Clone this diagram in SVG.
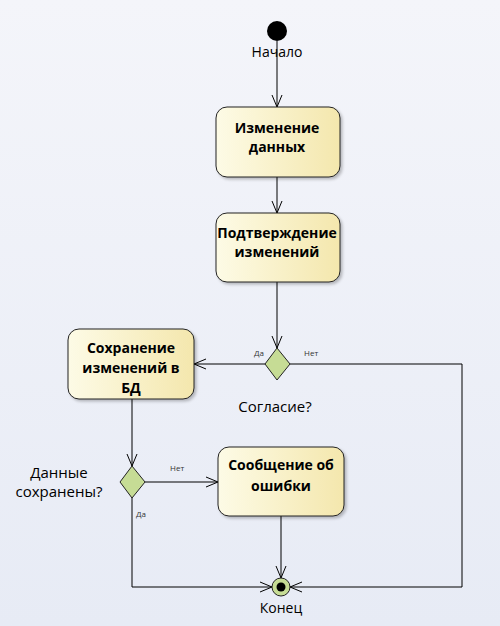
<svg xmlns="http://www.w3.org/2000/svg" width="500" height="626" viewBox="0 0 500 626">
<defs>
<linearGradient id="bg" x1="0" y1="0" x2="0" y2="1"><stop offset="0" stop-color="#f4f5fa"/><stop offset="1" stop-color="#e7ebf5"/></linearGradient>
<linearGradient id="act" x1="0" y1="0" x2="1" y2="0"><stop offset="0" stop-color="#fdfbe6"/><stop offset="1" stop-color="#f4e7ad"/></linearGradient>
<marker id="arr" viewBox="0 0 12 12" refX="12" refY="6" markerWidth="12" markerHeight="12" markerUnits="userSpaceOnUse" orient="auto"><path d="M0,1 L12,6 L0,11" fill="none" stroke="#000" stroke-width="1"/></marker>
<filter id="sh" x="-10%" y="-10%" width="130%" height="130%"><feGaussianBlur in="SourceAlpha" stdDeviation="1.5"/><feOffset dx="2" dy="2"/><feComponentTransfer><feFuncA type="linear" slope="0.25"/></feComponentTransfer><feMerge><feMergeNode/><feMergeNode in="SourceGraphic"/></feMerge></filter>
</defs>
<style>
.box{fill:url(#act);stroke:#222;stroke-width:1;filter:url(#sh)}
.dia{fill:#c6dc95;stroke:#222;stroke-width:1}
.bt{font-family:"Open Sans","Liberation Sans",sans-serif;font-weight:bold;font-size:14px;text-anchor:middle;fill:#000}
.lt{font-family:"Open Sans","Liberation Sans",sans-serif;font-size:14px;text-anchor:middle;fill:#000}
.lg{font-size:15px}
.st{font-family:"Open Sans","Liberation Sans",sans-serif;font-size:8px;fill:#333}
.c{fill:none;stroke:#000;stroke-width:1}
</style>
<rect width="500" height="626" fill="url(#bg)"/>
<g id="connectors">
<path class="c" d="M277,41 V107" marker-end="url(#arr)"/>
<path class="c" d="M277,177 V213" marker-end="url(#arr)"/>
<path class="c" d="M277,282 V348" marker-end="url(#arr)"/>
<path class="c" d="M265,364 H194" marker-end="url(#arr)"/>
<path class="c" d="M290,364 H462 V587 H290" marker-end="url(#arr)"/>
<path class="c" d="M132,399 V466" marker-end="url(#arr)"/>
<path class="c" d="M145,482 H218" marker-end="url(#arr)"/>
<path class="c" d="M281,516 V578" marker-end="url(#arr)"/>
<path class="c" d="M132,497 V587 H272" marker-end="url(#arr)"/>
<text class="st" x="254" y="356">Да</text>
<text class="st" x="304" y="356">Нет</text>
<text class="st" x="170" y="471">Нет</text>
<text class="st" x="136" y="517">Да</text>
</g>
<g id="start">
<circle cx="277" cy="31" r="10" fill="#000"/>
<text class="lt" x="277" y="57">Начало</text>
</g>
<g id="n1">
<rect class="box" x="216" y="107" width="124" height="70" rx="11"/>
<text class="bt" x="277" y="133">Изменение</text>
<text class="bt" x="277" y="152">данных</text>
</g>
<g id="n2">
<rect class="box" x="216" y="213" width="124" height="69" rx="11"/>
<text class="bt" x="277" y="238">Подтверждение</text>
<text class="bt" x="277" y="257">изменений</text>
</g>
<g id="d1">
<polygon class="dia" points="277,348 290,364 277,380 265,364"/>
<text class="lt lg" x="275" y="412">Согласие?</text>
</g>
<g id="n3">
<rect class="box" x="68" y="329" width="126" height="70" rx="11"/>
<text class="bt" x="131" y="353">Сохранение</text>
<text class="bt" x="131" y="373">изменений в</text>
<text class="bt" x="131" y="393">БД</text>
</g>
<g id="d2">
<polygon class="dia" points="132,466 145,482 132,498 120,482"/>
<text class="lt lg" x="59" y="478">Данные</text>
<text class="lt lg" x="59" y="497">сохранены?</text>
</g>
<g id="n4">
<rect class="box" x="218" y="447" width="126" height="69" rx="11"/>
<text class="bt" x="281" y="470">Сообщение об</text>
<text class="bt" x="281" y="491">ошибки</text>
</g>
<g id="end">
<circle cx="281" cy="587" r="9" fill="#c6dc95" stroke="#222" stroke-width="1"/>
<circle cx="281" cy="587" r="4.5" fill="#000"/>
<text class="lt" x="281" y="613">Конец</text>
</g>
</svg>
